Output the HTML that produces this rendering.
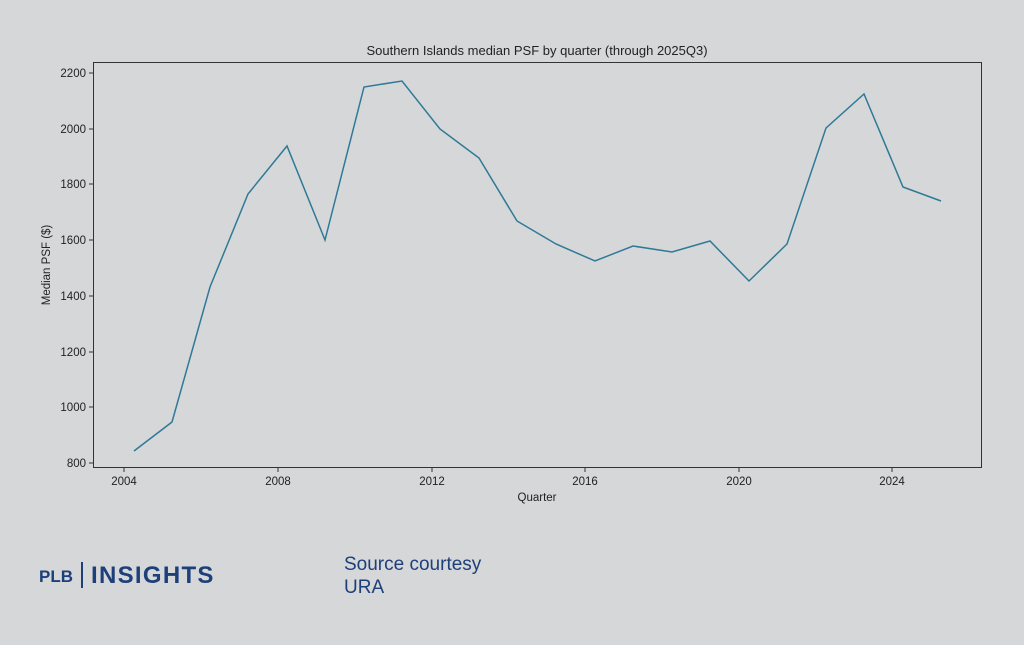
<!DOCTYPE html>
<html><head><meta charset="utf-8"><style>
body{margin:0;background:#d6d7d9;width:1024px;height:640px;overflow:hidden;font-family:"Liberation Sans",sans-serif}
</style></head><body>
<svg width="1024" height="640" xmlns="http://www.w3.org/2000/svg" font-family="Liberation Sans, sans-serif">
<rect width="1024" height="640" fill="#d6d7d9"/>
<text x="537" y="55" font-size="13" text-anchor="middle" fill="#222">Southern Islands median PSF by quarter (through 2025Q3)</text>
<rect x="93.5" y="62.5" width="888" height="405" fill="none" stroke="#333" stroke-width="1"/>
<g stroke="#333">
<line x1="89" x2="93" y1="73" y2="73"/><line x1="89" x2="93" y1="129" y2="129"/><line x1="89" x2="93" y1="184" y2="184"/><line x1="89" x2="93" y1="240" y2="240"/><line x1="89" x2="93" y1="296" y2="296"/><line x1="89" x2="93" y1="352" y2="352"/><line x1="89" x2="93" y1="407" y2="407"/><line x1="89" x2="93" y1="463" y2="463"/>
<line x1="124" x2="124" y1="468" y2="472"/><line x1="278" x2="278" y1="468" y2="472"/><line x1="432" x2="432" y1="468" y2="472"/><line x1="585" x2="585" y1="468" y2="472"/><line x1="739" x2="739" y1="468" y2="472"/><line x1="892" x2="892" y1="468" y2="472"/>
</g>
<g font-size="11.5" fill="#222" text-anchor="end">
<text x="86" y="77">2200</text><text x="86" y="133">2000</text><text x="86" y="188">1800</text><text x="86" y="244">1600</text><text x="86" y="300">1400</text><text x="86" y="356">1200</text><text x="86" y="411">1000</text><text x="86" y="467">800</text>
</g>
<g font-size="11.5" fill="#222" text-anchor="middle">
<text x="124" y="485">2004</text><text x="278" y="485">2008</text><text x="432" y="485">2012</text><text x="585" y="485">2016</text><text x="739" y="485">2020</text><text x="892" y="485">2024</text>
<text x="537" y="501">Quarter</text>
<text transform="translate(50,265) rotate(-90)">Median PSF ($)</text>
</g>
<polyline fill="none" stroke="#2e7a96" stroke-width="1.5" points="134,451 172,422 210,287 248,194 287,146 325,240 364,87 402,81 440,129 479,158 517,221 556,244 595,261 633,246 672,252 710,241 749,281 787,244 826,128 864,94 903,187 941,201"/>
<text x="39" y="582" font-size="17" font-weight="bold" fill="#1d3f7a">PLB</text>
<line x1="82" y1="562" x2="82" y2="588" stroke="#1d3f7a" stroke-width="2"/>
<text x="91" y="583" font-size="24" font-weight="bold" fill="#1d3f7a" letter-spacing="1.3">INSIGHTS</text>
<text x="344" y="570" font-size="19" fill="#1d3f7a">Source courtesy</text>
<text x="344" y="593" font-size="19" fill="#1d3f7a">URA</text>
</svg>
</body></html>
